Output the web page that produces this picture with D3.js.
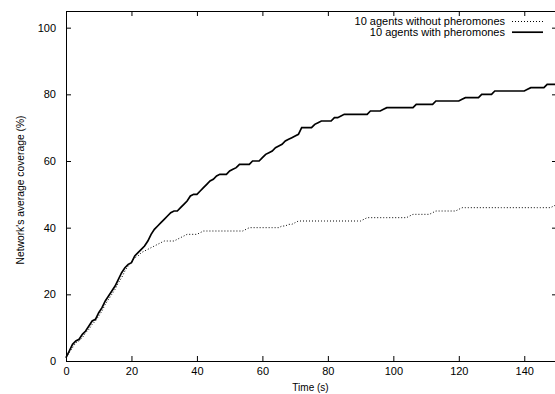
<!DOCTYPE html>
<meta charset="utf-8">
<script src="https://cdn.jsdelivr.net/npm/d3@7"></script>
<style>
body { margin: 0; background: #fff; }
text { font-family: "Liberation Sans", Arial, sans-serif; font-size: 11px; fill: #000; }
.axis path { display: none; }
.axis line { stroke: #000; }
.axis text { font-family: "Liberation Sans", Arial, sans-serif; font-size: 11px; }
path.without { fill: none; stroke: #000; stroke-width: 1; stroke-dasharray: 1,2; }
path.with { fill: none; stroke: #000; stroke-width: 1.7; }
</style>
<body>
<script>

// time in seconds, one sample per second
var time = d3.range(0, 151);

// coverage (%) - 10 agents with pheromones
var withPher = [
  1, 3, 5, 6, 6.5, 8, 9, 10.5, 12, 12.5,
  14.5, 16, 18, 19.5, 21, 22.5, 24.5, 26.5, 28, 29,
  29.5, 31.5, 32.5, 33.5, 34.5, 36, 38, 39.5, 40.5, 41.5,
  42.5, 43.5, 44.5, 45, 45, 46, 47, 48, 49.5, 50,
  50, 51, 52, 53, 54, 54.5, 55.5, 56, 56, 56,
  57, 57.5, 58, 59, 59, 59, 59, 60, 60, 60,
  61, 62, 62.5, 63, 64, 64.5, 65, 66, 66.5, 67,
  67.5, 68, 70, 70, 70, 70, 71, 71.5, 72, 72,
  72, 72, 73, 73, 73.5, 74, 74, 74, 74, 74,
  74, 74, 74, 75, 75, 75, 75, 75.5, 76, 76,
  76, 76, 76, 76, 76, 76, 76, 77, 77, 77,
  77, 77, 77, 78, 78, 78, 78, 78, 78, 78,
  78, 78.5, 79, 79, 79, 79, 79, 80, 80, 80,
  80, 81, 81, 81, 81, 81, 81, 81, 81, 81,
  81, 81.5, 82, 82, 82, 82, 82, 83, 83, 83,
  83
];

// coverage (%) - 10 agents without pheromones
var withoutPher = [
  1, 2.5, 4, 5.5, 6, 7, 8.5, 9.5, 11, 12,
  13.5, 15, 17, 18.5, 20, 21.5, 23.5, 25, 27, 28.5,
  29.5, 31, 31.5, 32.5, 33, 33.5, 34, 34.5, 35, 35.5,
  36, 36, 36, 36, 36.5, 37, 37.5, 38, 38, 38,
  38, 38.5, 39, 39, 39, 39, 39, 39, 39, 39,
  39, 39, 39, 39, 39, 39.5, 40, 40, 40, 40,
  40, 40, 40, 40, 40, 40, 40.5, 40.5, 41, 41,
  41.5, 42, 42, 42, 42, 42, 42, 42, 42, 42,
  42, 42, 42, 42, 42, 42, 42, 42, 42, 42,
  42, 42.5, 43, 43, 43, 43, 43, 43, 43, 43,
  43, 43, 43, 43, 43, 43.5, 44, 44, 44, 44,
  44, 44, 44.5, 45, 45, 45, 45, 45, 45, 45,
  45.5, 46, 46, 46, 46, 46, 46, 46, 46, 46,
  46, 46, 46, 46, 46, 46, 46, 46, 46, 46,
  46, 46, 46, 46, 46, 46, 46, 46, 46, 46.5,
  47
];

var xTicks = [0, 20, 40, 60, 80, 100, 120, 140];
var yTicks = [0, 20, 40, 60, 80, 100];
var legendLabels = ["10 agents without pheromones", "10 agents with pheromones"];

var width = 555,
    height = 394;

// plot frame (the right edge falls just outside the picture)
var mLeft = 66, mRight = 557, mTop = 11, mBottom = 361;

var x = d3.scaleLinear().domain([0, 150]).range([mLeft, mRight]);
var y = d3.scaleLinear().domain([0, 105]).range([mBottom, mTop]);

var svg = d3.select("body").append("svg")
    .attr("width", width)
    .attr("height", height);

// axes, ticks pointing inwards
svg.append("g").attr("class", "axis")
    .attr("transform", "translate(0," + mBottom + ")")
    .call(d3.axisBottom(x).tickValues(xTicks).tickSize(-5).tickPadding(6).tickFormat(d3.format("d")));

svg.append("g").attr("class", "axis")
    .attr("transform", "translate(0," + mTop + ")")
    .call(d3.axisTop(x).tickValues(xTicks).tickSize(-5).tickFormat(""));

svg.append("g").attr("class", "axis")
    .attr("transform", "translate(" + mLeft + ",0)")
    .call(d3.axisLeft(y).tickValues(yTicks).tickSize(-5).tickPadding(10).tickFormat(d3.format("d")));

svg.append("g").attr("class", "axis")
    .attr("transform", "translate(" + mRight + ",0)")
    .call(d3.axisRight(y).tickValues(yTicks).tickSize(-5).tickFormat(""));

// border
svg.append("rect")
    .attr("x", mLeft + 0.5).attr("y", mTop + 0.5)
    .attr("width", mRight - mLeft).attr("height", mBottom - mTop)
    .attr("fill", "none").attr("stroke", "#000");

var line = function(vals) {
  return d3.line()
      .x(function(d, i) { return x(time[i]); })
      .y(function(d) { return y(d); })(vals);
};

svg.append("path").attr("class", "without").attr("d", line(withoutPher));
svg.append("path").attr("class", "with").attr("d", line(withPher));

// legend
var legend = svg.append("g");
legendLabels.forEach(function(l, i) {
  var ly = 21.5 + i * 10.7;
  legend.append("text")
      .attr("x", 505).attr("y", ly).attr("dy", "0.35em")
      .attr("text-anchor", "end")
      .text(l);
  legend.append("line")
      .attr("x1", 512).attr("x2", 543)
      .attr("y1", ly).attr("y2", ly)
      .style("stroke", "#000")
      .style("stroke-width", i == 0 ? 1 : 1.7)
      .style("stroke-dasharray", i == 0 ? "1,2" : null);
});

// axis labels
svg.append("text")
    .attr("x", (mLeft + mRight) / 2 - 1).attr("y", 391)
    .attr("text-anchor", "middle")
    .style("font-size", "10px")
    .text("Time (s)");

svg.append("text")
    .attr("transform", "translate(24,190) rotate(-90)")
    .attr("text-anchor", "middle")
    .style("font-size", "10.3px")
    .text("Network's average coverage (%)");

</script>
</body>
